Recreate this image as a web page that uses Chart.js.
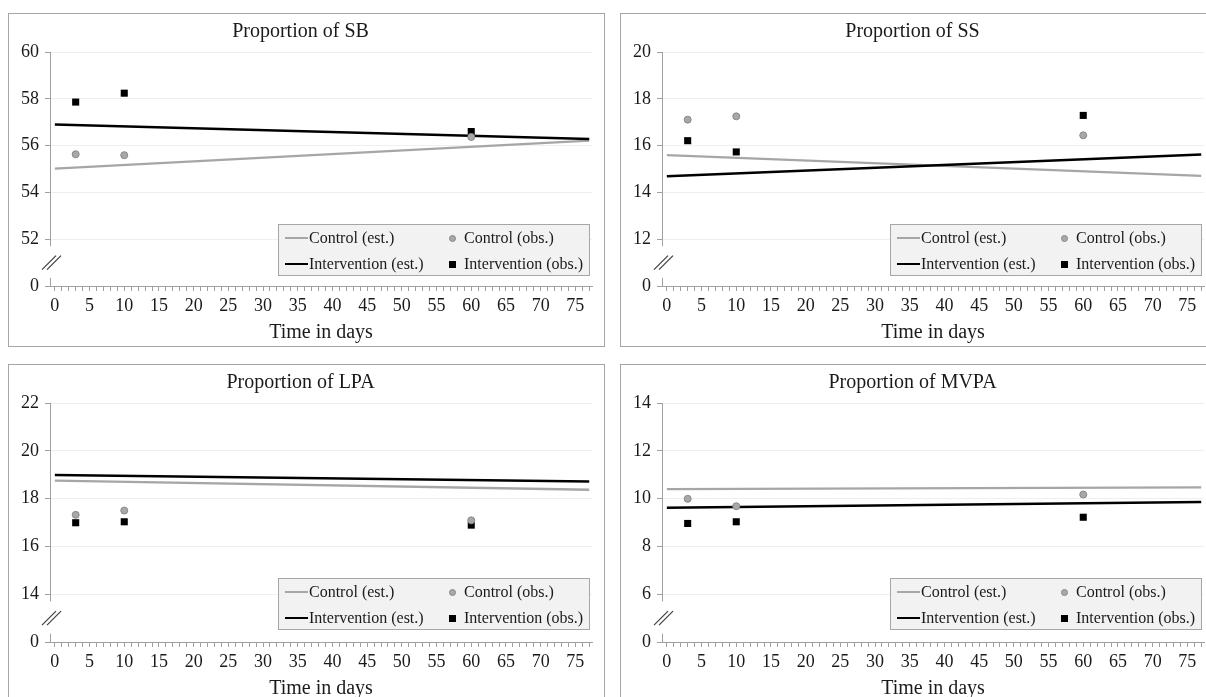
<!DOCTYPE html>
<html><head><meta charset="utf-8">
<script src="https://cdn.jsdelivr.net/npm/chart.js@4.4.1/dist/chart.umd.min.js"></script>
<style>
html,body{margin:0;padding:0;background:#fff;width:1206px;height:697px;overflow:hidden;position:relative;}
.panel{position:absolute;border:1px solid #a6a6a6;box-sizing:border-box;background:#fff;}
.panel canvas{position:absolute;left:0;top:0;}
.legend{position:absolute;width:312px;height:52px;box-sizing:border-box;background:#f2f2f2;border:1px solid #a6a6a6;font:16px "Liberation Serif",serif;color:#1a1a1a;}
.lg{position:absolute;height:26px;line-height:26px;white-space:nowrap;}
.ls{position:absolute;width:23px;}
.mk{position:absolute;}
</style></head>
<body>
<script>
// ---- data ----
const panelTitles = ['Proportion of SB', 'Proportion of SS', 'Proportion of LPA', 'Proportion of MVPA'];
const xTitle = 'Time in days';
const legendLabels = ['Control (est.)', 'Control (obs.)', 'Intervention (est.)', 'Intervention (obs.)'];
const obsDays = [3, 10, 60];
const estDays = [0, 77];
const yMins = [50, 10, 12, 4];   // bottom of the broken axis, labelled "0"
const yMaxs = [60, 20, 22, 14];
const yStep = 2;
const xMin = -0.7, xMax = 77.4, xLabelEvery = 5;

const sbControlObs = [55.63, 55.59, 56.37];
const sbInterventionObs = [57.86, 58.24, 56.60];
const sbControlEst = [55.02, 56.21];
const sbInterventionEst = [56.90, 56.28];

const ssControlObs = [17.11, 17.25, 16.44];
const ssInterventionObs = [16.21, 15.73, 17.29];
const ssControlEst = [15.59, 14.71];
const ssInterventionEst = [14.69, 15.62];

const lpaControlObs = [17.32, 17.50, 17.09];
const lpaInterventionObs = [16.99, 17.03, 16.89];
const lpaControlEst = [18.75, 18.37];
const lpaInterventionEst = [18.99, 18.72];

const mvpaControlObs = [9.99, 9.68, 10.17];
const mvpaInterventionObs = [8.96, 9.03, 9.22];
const mvpaControlEst = [10.40, 10.47];
const mvpaInterventionEst = [9.62, 9.86];

const seriesByPanel = [
  [sbControlObs, sbInterventionObs, sbControlEst, sbInterventionEst],
  [ssControlObs, ssInterventionObs, ssControlEst, ssInterventionEst],
  [lpaControlObs, lpaInterventionObs, lpaControlEst, lpaInterventionEst],
  [mvpaControlObs, mvpaInterventionObs, mvpaControlEst, mvpaInterventionEst]
];

// ---- layout ----
const panelBoxes = [
  {left: 8, top: 13, w: 597, h: 334, lgTop: 210},
  {left: 620, top: 13, w: 597, h: 334, lgTop: 210},
  {left: 8, top: 364, w: 597, h: 339, lgTop: 213},
  {left: 620, top: 364, w: 597, h: 339, lgTop: 213}
];
const FONT = '"Liberation Serif", "Times New Roman", serif';
const TXT = '#1a1a1a';
const AXIS = '#a0a0a0';
const GRAY_LINE = '#a6a6a6';

const axisBreak = {
  id: 'axisBreak',
  afterDraw(chart) {
    const y = chart.scales.y, ctx = chart.ctx, ca = chart.chartArea;
    const mn = y.min;
    const xL = Math.round(ca.left) + 0.5;
    const yA = y.getPixelForValue(mn + 1.7);
    const yB = y.getPixelForValue(mn + 0.35);
    const yM = y.getPixelForValue(mn + 1.0);
    ctx.save();
    ctx.strokeStyle = AXIS; ctx.lineWidth = 1;
    ctx.beginPath();
    ctx.moveTo(xL, ca.top); ctx.lineTo(xL, yA);
    ctx.moveTo(xL, yB); ctx.lineTo(xL, ca.bottom);
    ctx.stroke();
    ctx.strokeStyle = '#404040'; ctx.lineWidth = 1.2;
    for (const d of [-2.5, 2.5]) {
      ctx.beginPath();
      ctx.moveTo(xL - 6 + d, yM + 7);
      ctx.lineTo(xL + 8 + d, yM - 7);
      ctx.stroke();
    }
    ctx.restore();
  }
};

function buildPanel(i) {
  const b = panelBoxes[i];
  const div = document.createElement('div');
  div.className = 'panel';
  Object.assign(div.style, {left: b.left + 'px', top: b.top + 'px', width: b.w + 'px', height: b.h + 'px'});
  document.body.appendChild(div);
  const cw = b.w - 2, chh = b.h - 2;
  const cv = document.createElement('canvas');
  cv.width = cw; cv.height = chh;
  cv.style.width = cw + 'px'; cv.style.height = chh + 'px';
  div.appendChild(cv);

  const [cObs, iObs, cEst, iEst] = seriesByPanel[i];
  const mn = yMins[i], mx = yMaxs[i];
  const pts = (xs, ys) => xs.map((x, k) => ({x: x, y: ys[k]}));

  new Chart(cv.getContext('2d'), {
    type: 'scatter',
    data: {
      datasets: [
        {label: legendLabels[1], data: pts(obsDays, cObs), pointStyle: 'circle', pointRadius: 3.5,
         backgroundColor: '#a8a8a8', borderColor: '#888', borderWidth: 1},
        {label: legendLabels[3], data: pts(obsDays, iObs), pointStyle: 'rect', pointRadius: 5,
         backgroundColor: '#000', borderColor: '#000', borderWidth: 0},
        {label: legendLabels[2], data: pts(estDays, iEst), showLine: true, pointRadius: 0,
         borderColor: '#000', borderWidth: 2.5, backgroundColor: '#000'},
        {label: legendLabels[0], data: pts(estDays, cEst), showLine: true, pointRadius: 0,
         borderColor: GRAY_LINE, borderWidth: 2.3, backgroundColor: GRAY_LINE}
      ]
    },
    options: {
      responsive: false, animation: false, devicePixelRatio: 1,
      layout: {padding: {left: 0, right: 12, top: 0, bottom: 0}},
      plugins: {
        legend: {display: false}, tooltip: {enabled: false},
        title: {display: true, text: panelTitles[i], color: TXT,
                font: {family: FONT, size: 20, weight: 'normal'}, padding: {top: 6, bottom: 8}}
      },
      scales: {
        x: {
          type: 'linear', min: xMin, max: xMax,
          afterFit: s => { s.height = 60; },
          ticks: {stepSize: 1, autoSkip: false, includeBounds: false, maxRotation: 0, minRotation: 0,
                  padding: 4, color: TXT, font: {family: FONT, size: 18},
                  callback: v => (Math.abs(v - Math.round(v / xLabelEvery) * xLabelEvery) < 1e-6 ? String(Math.round(v)) : '')},
          grid: {drawOnChartArea: false, drawTicks: true, tickLength: 5, tickColor: AXIS},
          border: {display: true, color: AXIS, width: 1},
          title: {display: true, text: xTitle, color: TXT, font: {family: FONT, size: 20}, padding: {top: 0, bottom: 1}}
        },
        y: {
          type: 'linear', min: mn, max: mx,
          afterFit: s => { s.width = 41; },
          ticks: {stepSize: yStep, padding: 6, color: TXT, font: {family: FONT, size: 18},
                  callback: v => (v === mn ? '0' : String(v))},
          grid: {color: c => (c.tick && c.tick.value === mn ? 'rgba(0,0,0,0)' : '#efefef'),
                 tickColor: AXIS, tickLength: 5, drawTicks: true},
          border: {display: false}
        }
      }
    },
    plugins: [axisBreak]
  });

  // legend (HTML)
  const lg = document.createElement('div');
  lg.className = 'legend';
  lg.style.left = '269px'; lg.style.top = b.lgTop + 'px';
  const rows = [
    {line: GRAY_LINE, lw: 2, text: legendLabels[0], mk: 'circle', mtext: legendLabels[1]},
    {line: '#000', lw: 2.5, text: legendLabels[2], mk: 'rect', mtext: legendLabels[3]}
  ];
  rows.forEach((r, k) => {
    const top = k * 26;
    const ls = document.createElement('div');
    ls.className = 'ls';
    Object.assign(ls.style, {left: '6px', top: (top + 13 - r.lw / 2) + 'px', height: r.lw + 'px', background: r.line});
    lg.appendChild(ls);
    const t1 = document.createElement('div');
    t1.className = 'lg'; t1.style.left = '30px'; t1.style.top = top + 'px'; t1.textContent = r.text;
    lg.appendChild(t1);
    const m = document.createElement('div');
    m.className = 'mk';
    if (r.mk === 'circle') {
      Object.assign(m.style, {left: '170px', top: (top + 10) + 'px', width: '5px', height: '5px', borderRadius: '50%', background: '#a8a8a8', border: '1px solid #888'});
    } else {
      Object.assign(m.style, {left: '170px', top: (top + 9.5) + 'px', width: '7px', height: '7px', background: '#000'});
    }
    lg.appendChild(m);
    const t2 = document.createElement('div');
    t2.className = 'lg'; t2.style.left = '185px'; t2.style.top = top + 'px'; t2.textContent = r.mtext;
    lg.appendChild(t2);
  });
  div.appendChild(lg);
}

for (let i = 0; i < 4; i++) buildPanel(i);
</script>
</body></html>
